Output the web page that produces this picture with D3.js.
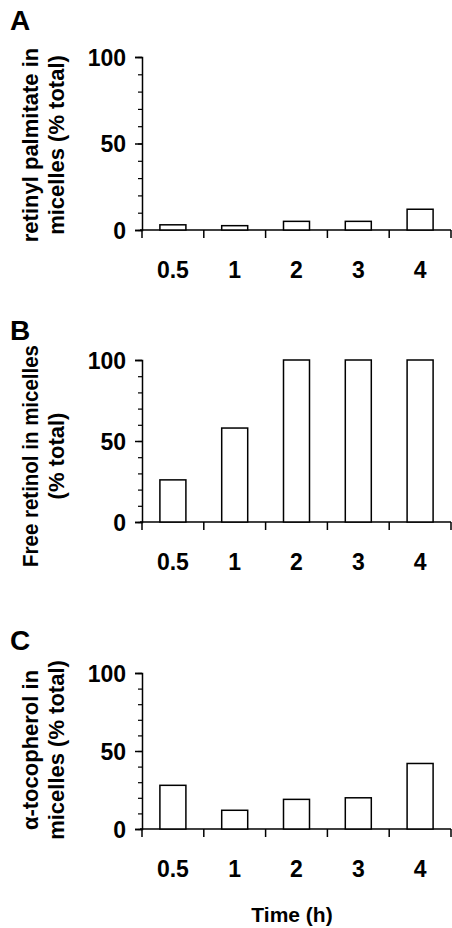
<!DOCTYPE html>
<html><head><meta charset="utf-8">
<script src="https://cdn.jsdelivr.net/npm/d3@7"></script>
<style>body{margin:0;background:#fff}text{font-family:"Liberation Sans",Arial,sans-serif;font-weight:bold}</style>
</head><body><svg id="c" width="452" height="928"></svg>
<script>
const categories=["0.5","1","2","3","4"];
const valuesA=[3,2.5,5,5,12];
const valuesB=[26,58,100,100,100];
const valuesC=[28,12,19,20,42];
const yTicks=[0,50,100];
const panels=[
 {letter:"A",vals:valuesA,top:57,bottom:230,lab:["retinyl palmitate in","micelles (% total)"],ly:20,cy:145,fit:null},
 {letter:"B",vals:valuesB,top:360,bottom:522,lab:["Free retinol in micelles","(% total)"],ly:330,cy:456,fit:222},
 {letter:"C",vals:valuesC,top:673,bottom:829,lab:["α-tocopherol in","micelles (% total)"],ly:640,cy:750,fit:null}
];
const svg=d3.select("#c");
const x=d3.scaleBand().domain(categories).range([142,451]).paddingInner(0).paddingOuter(0);
panels.forEach(p=>{
 const y=d3.scaleLinear().domain([0,100]).range([p.bottom,p.top]);
 const g=svg.append("g");
 g.append("text").attr("x",10).attr("y",p.ly+10).attr("font-size",28).text(p.letter);
 g.append("g").attr("transform","translate(142,0)").call(d3.axisLeft(y).tickValues(d3.range(0,101,10)).tickSize(4).tickFormat(""))
  .call(a=>a.select(".domain").remove()).selectAll("line").attr("stroke-width",1.2);
 const ya=g.append("g").attr("transform","translate(142,0)").call(d3.axisLeft(y).tickValues(yTicks).tickSize(7).tickPadding(9));
 ya.attr("font-size",null).attr("font-family",null);
 ya.selectAll("text").style("font-size","23px").style("font-weight","bold").attr("dy","0.36em");
 ya.selectAll("path,line").attr("stroke-width",1.5);
 g.append("line").attr("x1",140).attr("x2",451).attr("y1",p.bottom).attr("y2",p.bottom).attr("stroke","#000").attr("stroke-width",1.5);
 const bounds=categories.map(c=>x(c)).concat([451]);
 g.selectAll(".xt").data(bounds).enter().append("line").attr("x1",d=>d).attr("x2",d=>d).attr("y1",p.bottom).attr("y2",p.bottom+8).attr("stroke","#000").attr("stroke-width",1.5);
 g.selectAll(".xl").data(categories).enter().append("text").attr("x",d=>x(d)+x.bandwidth()/2).attr("y",p.bottom+48).attr("text-anchor","middle").style("font-size","23px").text(d=>d);
 const bw=26;
 g.selectAll(".bar").data(p.vals).enter().append("rect")
  .attr("x",(d,i)=>x(categories[i])+x.bandwidth()/2-bw/2).attr("width",bw)
  .attr("y",d=>y(d)).attr("height",d=>p.bottom-y(d)).attr("fill","#fff").attr("stroke","#000").attr("stroke-width",1.5);
 const t1=g.append("text").attr("transform",`translate(38,${p.cy}) rotate(-90)`).attr("text-anchor","middle").style("font-size","22px").text(p.lab[0]);
 if(p.fit) t1.attr("textLength",p.fit).attr("lengthAdjust","spacingAndGlyphs");
 g.append("text").attr("transform",`translate(64,${p.cy}) rotate(-90)`).attr("text-anchor","middle").style("font-size","22px").text(p.lab[1]);
});
svg.append("text").attr("x",292).attr("y",922).attr("text-anchor","middle").style("font-size","21px").text("Time (h)");
</script></body></html>
